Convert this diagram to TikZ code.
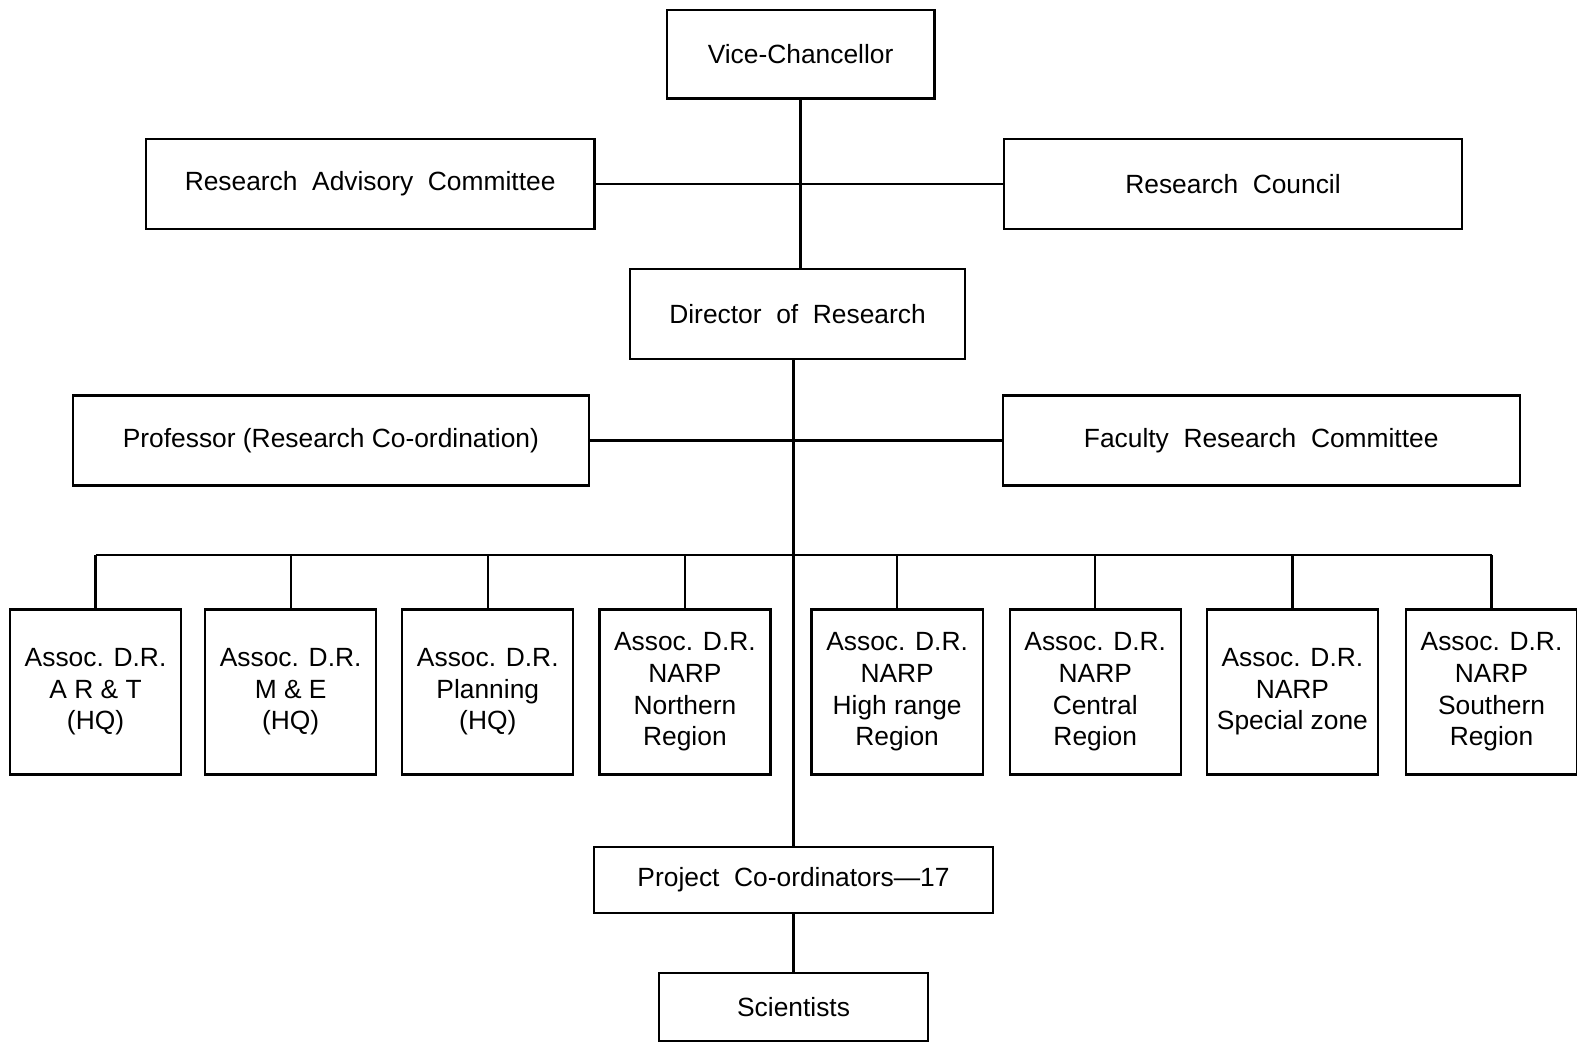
\documentclass[tikz,border=0pt]{standalone}
\usepackage{fontspec}
\setmainfont{Liberation Sans}

\begin{document}
\begin{tikzpicture}[x=0.02011cm, y=-0.02011cm, line width=1.3pt,
    every node/.style={font=\fontsize{15}{18}\selectfont, align=center, inner sep=0pt},
    box/.style={draw, minimum height=1.8cm},
    assoc/.style={draw, minimum width=3.42cm, minimum height=3.3cm}]
			\useasboundingbox (0,0) rectangle (1568,1037);

			% Top of the chart
			\node[box, minimum width=5.35cm, minimum height=1.77cm] (vc) at (796,54) {Vice-Chancellor};
			\node[box, minimum width=8.97cm] (rac) at (368,183) {Research\ \ Advisory\ \ Committee};
			\node[box, minimum width=9.15cm] (rc) at (1226,183) {Research\ \ Council};
			\node[box, minimum width=6.70cm] (dr) at (793,312) {Director\ \ of\ \ Research};
			\node[box, minimum width=10.32cm] (prof) at (329,438) {Professor (Research Co-ordination)};
			\node[box, minimum width=10.34cm] (frc) at (1254,438) {Faculty\ \ Research\ \ Committee};

			% Associate directors
			\node[assoc] (a1) at (95,688) {Assoc. D.R.\\A R \& T\\(HQ)};
			\node[assoc] (a2) at (289,688) {Assoc. D.R.\\M \& E\\(HQ)};
			\node[assoc] (a3) at (485,688) {Assoc. D.R.\\Planning\\(HQ)};
			\node[assoc] (a4) at (681,688) {Assoc. D.R.\\NARP\\Northern\\Region};
			\node[assoc] (a5) at (892,688) {Assoc. D.R.\\NARP\\High range\\Region};
			\node[assoc] (a6) at (1089,688) {Assoc. D.R.\\NARP\\Central\\Region};
			\node[assoc] (a7) at (1285,688) {Assoc. D.R.\\NARP\\Special zone};
			\node[assoc] (a8) at (1483,688) {Assoc. D.R.\\NARP\\Southern\\Region};

			% Bottom of the chart
			\node[box, minimum width=7.98cm, minimum height=1.33cm] (pc) at (789,875) {Project\ \ Co-ordinators---17};
			\node[box, minimum width=5.37cm, minimum height=1.36cm] (sci) at (789,1001) {Scientists};

			% Lines
			\draw (vc.south) -- (vc.south |- dr.north);
			\draw (rac.east) -- (rc.west);
			\draw (dr.south -| pc.north) -- (pc.north);
			\draw (prof.east) -- (frc.west);
			\draw (pc.south) -- (sci.north);

			\coordinate (bus) at (789,552);
			\draw (a1.north |- bus) -- (a8.north |- bus);
			\foreach \i in {1,...,8}
				\draw (a\i.north) -- (a\i.north |- bus);
		\end{tikzpicture}
\end{document}
